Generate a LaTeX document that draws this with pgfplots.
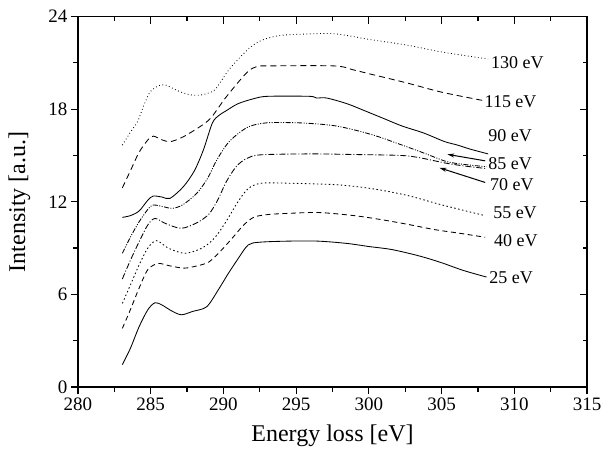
\documentclass[border=0pt]{standalone}
\usepackage{fontspec}
\setmainfont{Liberation Serif}
\usepackage{pgfplots}
\pgfplotsset{compat=1.18}
\usetikzlibrary{arrows.meta}
\begin{document}
\begin{tikzpicture}
\path[use as bounding box] (-78pt,-69pt) rectangle (525pt,387pt);
\begin{axis}[
 at={(0pt,0pt)}, anchor=south west,
 scale only axis, width=509pt, height=370.5pt,
 xmin=280, xmax=315, ymin=0, ymax=24,
 xtick={280,285,...,315}, ytick={0,6,...,24},
 minor xtick={282.5,287.5,...,312.5}, minor ytick={3,9,...,21},
 tick pos=left, tick align=outside,
 major tick length=7pt, minor tick length=4.5pt,
 axis line style={line width=1.4pt},
 every tick/.style={black, line width=1.2pt},
 tick label style={font=\fontsize{19}{22}\selectfont},
 /pgf/number format/assume math mode=true,
 xlabel={Energy loss [eV]}, ylabel={Intensity [a.u.]},
 label style={font=\fontsize{24}{28}\selectfont},
 xlabel style={at={(axis description cs:0.5,-0.132)}, anchor=center},
 ylabel style={at={(axis description cs:-0.115,0.5)}, anchor=center},
 clip mode=individual,
 no markers,
 every axis plot/.append style={black, line width=0.85pt, smooth, tension=0.5},
]
% 25 eV
\addplot[black, solid] coordinates {(283.05,1.45) (283.6,2.5) (284.2,3.9) (284.8,5.0) (285.3,5.46) (285.8,5.3) (286.4,4.95) (287.1,4.68) (287.9,4.9) (288.85,5.2) (289.65,6.3) (290.3,7.3) (291.0,8.3) (291.7,9.2) (292.5,9.38) (294.5,9.45) (296.5,9.45) (298.5,9.3) (300.0,9.1) (301.6,8.9) (303.5,8.48) (305.0,8.05) (306.5,7.55) (308.1,7.12)};
% 40 eV
\addplot[black, dash pattern=on 5pt off 3.5pt] coordinates {(283.05,3.8) (283.6,5.0) (284.2,6.4) (284.8,7.6) (285.5,8.0) (286.3,7.85) (287.3,7.7) (288.2,7.85) (289.0,8.1) (289.8,8.8) (290.66,9.7) (291.4,10.5) (292.1,11.0) (293.05,11.17) (294.5,11.25) (296.6,11.3) (299.0,11.1) (300.8,10.85) (302.6,10.55) (304.5,10.2) (306.3,9.95) (308.0,9.7)};
% 55 eV
\addplot[black, dash pattern=on 1.5pt off 2.5pt] coordinates {(283.05,5.42) (283.6,6.6) (284.2,7.9) (284.8,9.0) (285.4,9.48) (286.2,9.0) (287.3,8.66) (288.3,8.9) (289.0,9.3) (289.6,9.9) (290.3,10.9) (291.0,12.0) (291.7,12.85) (292.6,13.2) (294.5,13.2) (297.8,13.1) (300.2,12.85) (302.6,12.42) (305.0,11.8) (307.9,11.12)};
% 70 eV
\addplot[black, dash pattern=on 6pt off 2pt on 1pt off 2pt] coordinates {(283.05,7.0) (283.6,8.2) (284.2,9.4) (284.8,10.5) (285.3,10.92) (286.0,10.6) (287.1,10.28) (288.2,10.65) (289.0,11.2) (289.6,12.1) (290.2,13.3) (290.9,14.3) (291.6,14.8) (292.57,15.04) (296.0,15.1) (299.0,15.06) (302.2,15.0) (303.5,14.85) (305.3,14.5) (306.7,14.3) (308.0,14.16)};
% 85 eV
\addplot[black, dash pattern=on 5pt off 1.5pt on 1pt off 1.5pt on 1pt off 1.5pt] coordinates {(283.05,8.66) (283.6,9.7) (284.2,10.7) (284.8,11.5) (285.18,11.79) (286.0,11.65) (286.5,11.57) (287.2,11.8) (288.16,12.54) (288.9,13.5) (289.54,14.7) (290.4,15.9) (291.6,16.8) (292.6,17.07) (293.5,17.13) (295.5,17.1) (297.8,16.9) (300.2,16.35) (302.2,15.7) (303.8,15.15) (305.36,14.6) (306.7,14.4) (308.1,14.27)};
% 90 eV
\addplot[black, solid] coordinates {(283.05,10.99) (283.6,11.1) (284.2,11.4) (284.8,12.1) (285.18,12.37) (285.8,12.3) (286.33,12.22) (287.24,12.97) (288.0,14.0) (288.62,15.35) (289.24,17.1) (289.7,17.6) (290.2,17.9) (291.0,18.35) (292.1,18.68) (293.05,18.83) (295.9,18.83) (296.4,18.72) (297.1,18.72) (298.5,18.35) (299.7,17.9) (301.0,17.4) (302.3,16.9) (303.75,16.46) (305.2,15.9) (306.1,15.67) (307.0,15.4) (308.2,15.1)};
% 115 eV
\addplot[black, dash pattern=on 6pt off 4pt] coordinates {(283.05,12.9) (283.6,14.0) (284.2,15.2) (284.8,16.0) (285.18,16.25) (285.8,16.0) (286.33,15.89) (287.0,16.1) (287.6,16.4) (288.6,17.0) (289.2,17.5) (290.2,18.8) (291.6,20.36) (292.3,20.76) (293.05,20.8) (297.6,20.8) (298.9,20.55) (300.2,20.25) (302.6,19.7) (305.0,19.1) (307.9,18.55)};
% 130 eV
\addplot[black, dash pattern=on 0.8pt off 2.6pt] coordinates {(283.05,15.67) (283.6,16.5) (284.1,17.2) (284.55,18.3) (284.95,19.1) (285.5,19.5) (286.0,19.57) (286.86,19.19) (287.6,18.95) (288.3,18.9) (289.0,19.05) (289.5,19.35) (290.4,20.58) (291.6,21.8) (292.3,22.3) (293.05,22.6) (294.2,22.8) (297.1,22.9) (298.3,22.8) (300.2,22.49) (302.6,22.15) (305.0,21.7) (308.2,21.25)};
% arrows
\draw[-{Stealth[length=7pt,width=4pt]}, line width=1pt] (axis cs:308.0,14.65) -- (axis cs:305.4,15.07);
\draw[-{Stealth[length=7pt,width=4pt]}, line width=1pt] (axis cs:308.0,13.25) -- (axis cs:304.85,14.2);
% labels
\begin{scope}[every node/.style={anchor=west, inner sep=0pt, font=\fontsize{18}{21}\selectfont}]
\node at (axis cs:308.4,21.0) {130 eV};
\node at (axis cs:307.95,18.45) {115 eV};
\node at (axis cs:308.2,16.3) {90 eV};
\node at (axis cs:308.2,14.5) {85 eV};
\node at (axis cs:308.33,13.1) {70 eV};
\node at (axis cs:308.54,11.3) {55 eV};
\node at (axis cs:308.6,9.5) {40 eV};
\node at (axis cs:308.27,7.05) {25 eV};
\end{scope}
\end{axis}
\begin{axis}[
 at={(0pt,0pt)}, anchor=south west,
 scale only axis, width=509pt, height=370.5pt,
 xmin=280, xmax=315, ymin=0, ymax=24,
 xtick={280,285,...,315}, ytick={0,6,...,24},
 minor xtick={282.5,287.5,...,312.5}, minor ytick={3,9,...,21},
 tick pos=right, tick align=inside,
 major tick length=7pt, minor tick length=4.5pt,
 axis line style={line width=1.4pt},
 every tick/.style={black, line width=1.2pt},
 xticklabels={}, yticklabels={},
]
\end{axis}
\end{tikzpicture}
\end{document}
